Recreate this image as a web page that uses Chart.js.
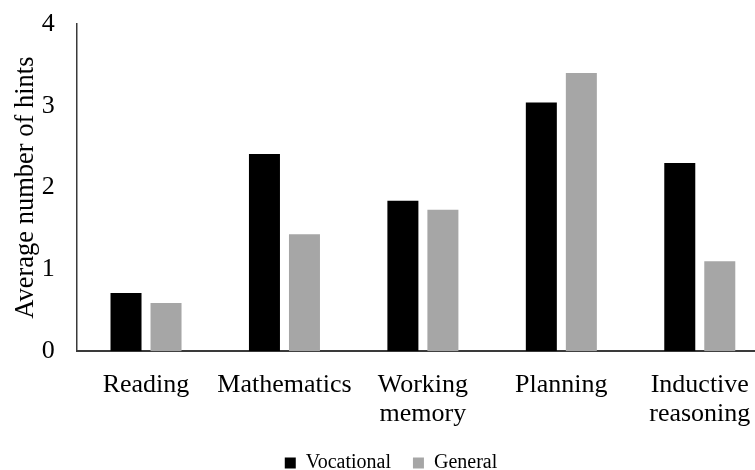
<!DOCTYPE html>
<html>
<head>
<meta charset="utf-8">
<script src="https://cdn.jsdelivr.net/npm/chart.js@4"></script>
<style>
  html, body { margin: 0; padding: 0; background: #fff; overflow: hidden; }
  #wrap { width: 782px; height: 470px; }
</style>
</head>
<body>
<div id="wrap"><canvas id="myChart" width="782" height="470"></canvas></div>
<script>
const categories = ['Reading', 'Mathematics', ['Working', 'memory'], 'Planning', ['Inductive', 'reasoning']];
const vocational = [0.71, 2.41, 1.84, 3.04, 2.30];
const general = [0.59, 1.43, 1.73, 3.40, 1.10];
const yTicks = [0, 1, 2, 3, 4];

const serif = '"Liberation Serif", "Times New Roman", serif';

const ctx = document.getElementById('myChart').getContext('2d');
new Chart(ctx, {
  type: 'bar',
  data: {
    labels: categories,
    datasets: [
      { label: 'Vocational', data: vocational, backgroundColor: '#000000' },
      { label: 'General', data: general, backgroundColor: '#a6a6a6' }
    ]
  },
  options: {
    responsive: false,
    animation: false,
    devicePixelRatio: 1,
    categoryPercentage: 0.578,
    barPercentage: 0.775,
    layout: { padding: { top: 24, right: 13, bottom: -13, left: 13 } },
    plugins: {
      tooltip: { enabled: false },
      legend: {
        position: 'bottom',
        labels: {
          boxWidth: 11,
          boxHeight: 11,
          padding: 22,
          color: '#000',
          font: { family: serif, size: 20 }
        }
      }
    },
    scales: {
      x: {
        grid: { display: false, drawTicks: false },
        border: { display: true, color: '#3a3a3a', width: 2 },
        ticks: {
          color: '#000',
          padding: 19,
          maxRotation: 0,
          autoSkip: false,
          font: { family: serif, size: 26, lineHeight: 1.12 }
        },
        // tick padding gets counted twice in fit
        afterFit: (axis) => { axis.height -= 16.4; }
      },
      y: {
        min: 0,
        max: 4,
        afterBuildTicks: (axis) => { axis.ticks = yTicks.map(v => ({ value: v })); },
        grid: { display: false, drawTicks: false },
        border: { display: true, color: '#3a3a3a', width: 1.5 },
        ticks: {
          color: '#000',
          padding: 22,
          font: { family: serif, size: 26 }
        },
        title: {
          display: true,
          text: 'Average number of hints',
          color: '#000',
          padding: { top: -3, bottom: 0 },
          font: { family: serif, size: 26.5 }
        },
        afterFit: (axis) => {
          axis.width -= 22;
          axis.paddingTop = 0;
        }
      }
    }
  }
});
</script>
</body>
</html>
